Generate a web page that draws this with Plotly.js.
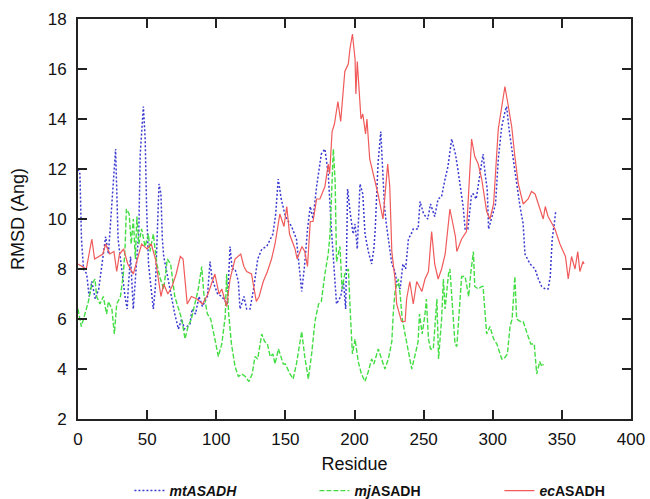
<!DOCTYPE html>
<html>
<head>
<meta charset="utf-8">
<script src="https://cdn.plot.ly/plotly-3.0.1.min.js"></script>
<style>html,body{margin:0;padding:0;background:#fff;}#chart{width:650px;height:499px;}</style>
</head>
<body>
<div id="chart"></div>
<script>
// mtASADH (blue, dotted)
var mtRes = [0,1.4,2.5,4,6.3,8,10,12.5,15,18,20,22,25,27.2,29,31,34,35.6,36.4,38,40,42,44,45,47.3,48.6,49.6,51,53.3,54.5,56,57.5,58.6,60,61,62,65,67.7,70,72.6,75,77,81,82.5,85,87.5,90,93.6,95.5,97,99,101,104,108,110,111.5,113.6,116,117.2,120,122,124.4,127,130,133,136.5,141,143,144.8,147,150,154.5,158,160,161.8,164,166,168,170,172.6,176,178.6,181,183.4,185,187,190,192,193.6,195,197,199,200.4,202,204,206,207.6,210,212.4,214,215,217,219,220.5,221.7,223,225,227,229.3,230.5,233,235,237,239,241,242.5,246,247.4,250,253,255,258,260.5,263,265.5,267.6,270.3,273,275,277,278.6,280,282,284.7,286,288,290,293,294.5,296,297,300,302,304,306.5,308.9,310,312,313.7,316,317,319.7,322,323.3,327,330.6,333,335.4,338,340,341.6,343,344.5,345.5];
var mtRmsd = [12.0,11.8,9.2,8.0,7.8,6.9,7.5,6.8,7.2,8.5,9.3,8.6,11.0,12.8,9.2,8.2,6.9,6.4,7.3,8.5,6.4,8.0,9.5,12.6,14.5,13.2,10.5,8.2,6.8,6.4,7.3,9.5,11.4,11.0,9.2,8.5,7.6,6.8,6.2,5.6,6.0,5.6,5.8,6.4,6.2,6.9,6.5,6.9,8.3,7.6,7.3,7.0,6.9,6.6,8.9,8.0,8.0,7.5,6.4,6.9,6.4,6.4,7.2,8.4,8.8,8.9,9.4,10.2,11.6,10.8,10.1,9.7,9.2,8.0,7.1,8.2,9.6,10.5,10.0,11.3,12.6,12.8,11.8,9.5,8.0,6.6,6.9,7.5,6.4,11.2,10.2,9.4,9.8,8.8,11.4,11.0,9.4,8.7,8.2,8.8,9.6,12.2,13.5,12.0,10.5,9.8,9.0,8.2,7.9,7.5,7.2,8.2,8.0,9.2,9.4,9.6,9.6,10.7,10.2,10.0,10.6,10.1,10.8,10.9,11.6,12.1,13.2,12.6,11.9,11.2,10.5,9.6,9.6,11.0,11.0,10.8,11.5,12.6,11.8,11.2,9.6,10.2,10.6,12.4,13.7,14.3,14.5,13.5,12.8,11.8,11.6,10.5,9.8,8.6,8.2,8.0,7.6,7.3,7.2,7.2,7.7,9.2,9.8,10.3];

// mjASADH (green, dashed)
var mjRes = [0,2.4,5,7.5,10,12.3,13.5,15.9,18.3,20.7,22,24.5,26.3,28,30.7,32.8,34,35,37,38.5,40,41.5,42.6,44,46,48.5,51,52,54.5,57,59.6,62,64.6,67,70,72.6,75,77.4,79.6,82,84.6,87,89.5,91,93.6,96,99,101.5,104,106.5,107.5,109,111,113.6,116,118.6,121,123.6,126,128,130,132.9,135,137,139,141,142.5,145,148.5,150,153.3,155.6,158,160,161.8,164,166.6,169,171.4,174,176,178.6,181,182.3,183.5,184.7,186,187,189.5,191,193,195.6,197,198.5,200.4,202.7,205,207.6,210,212.4,214,217.2,219.6,222,224.5,227,228,229.3,231.7,233,234.5,236.5,239,241.4,244,246,247,249,251,252,253.5,255,257,259.6,260.8,263,264.3,265.5,268,269,270.5,272.7,274,276,277.5,280,281,282.6,284,286,287,289.5,292,293,294.5,295.6,298,300.6,303,305,306.5,308,310.6,312.5,314,316,317.3,320,322,325,327.5,330,331.8,334,335.5,336.6];
var mjRmsd = [6.4,5.7,6.2,6.7,7.4,7.6,6.9,6.6,6.9,6.2,6.7,6.4,5.4,6.6,6.9,7.8,8.8,10.4,10.2,9.0,10.0,8.4,10.1,9.0,9.6,8.9,9.4,8.7,9.4,8.2,7.6,7.2,8.4,8.2,6.9,6.4,6.0,5.2,5.7,6.0,6.6,7.2,8.1,7.0,6.2,6.0,5.2,4.5,5.0,6.1,7.8,6.2,5.0,4.1,3.7,3.8,3.7,3.5,3.8,4.5,4.4,5.4,5.1,5.0,4.5,4.6,4.2,4.8,4.2,4.2,3.8,3.6,4.2,4.8,5.5,4.5,3.6,4.6,5.9,6.6,6.7,7.8,8.6,9.4,11.0,12.8,11.5,8.3,8.9,7.2,7.8,8.0,6.2,4.6,5.2,4.3,3.8,3.5,3.9,4.4,4.2,4.8,4.4,4.0,4.4,5.1,6.2,7.1,7.6,7.0,6.0,5.4,4.6,4.0,4.6,5.1,6.2,5.4,6.2,6.8,5.2,4.8,4.8,6.8,4.4,6.0,7.6,6.4,7.8,8.0,6.8,5.0,4.9,6.4,7.7,7.7,7.4,6.9,7.8,8.7,7.3,7.2,7.3,7.3,6.2,5.4,5.7,5.2,5.0,4.7,4.4,4.4,4.6,5.7,6.0,7.7,6.0,5.9,5.9,5.4,5.0,5.0,3.8,4.3,4.1,4.2];

// ecASADH (red, solid)
var ecRes = [0,3,6,8,10,12,15,18,20,23,26,28,30,33,36,40,43,46,50,53,56,58,60,62,65,68,71,74,76,79,82,86,90,94,97,99,102,104,107.5,110,113.6,117.7,120,122,125.5,129,131,134,137,140,142.5,146,149,151,153,157,158.5,162,164,166,168,170,172.6,175,178.6,181,182,183.8,185.5,188,190,193,195.5,196.7,198.5,200.4,201,202,204.7,206,208,209,211,214.8,217,220.6,224,225.5,227,229.3,230.5,234,236.6,237.7,240,242.5,245,248.7,251,253.5,255.8,258,260.5,263,265.6,269,270.5,273,274,277.5,281,284.7,287,289.5,292,295.6,298,300.6,304,306,308.8,311,313.7,316,318.5,322,325.6,328,330.6,333,336.5,338,340,343,345,348.6,350,352.6,354.6,357,359.5,361.5,363,365.3,366];
var ecRmsd = [8.2,8.1,8.0,8.6,9.2,8.4,8.5,8.6,9.0,8.6,8.7,7.9,8.6,8.8,8.2,7.8,8.4,9.0,8.8,9.0,8.4,7.6,6.9,7.4,7.0,7.3,7.8,8.5,8.4,6.6,6.9,6.8,6.6,7.0,7.5,7.8,7.0,7.2,6.5,7.6,8.4,8.6,8.1,7.9,7.8,6.7,6.9,7.5,7.9,8.4,9.0,10.2,9.7,10.5,9.4,8.8,8.4,8.9,8.7,8.1,9.9,9.9,10.8,10.8,11.3,12.2,11.8,13.5,13.8,14.7,13.9,15.9,16.2,16.8,17.4,16.4,15.0,16.3,14.0,14.2,13.4,14.0,12.4,11.5,11.0,10.0,12.2,11.3,8.7,7.6,6.6,5.9,5.9,6.8,7.5,6.6,7.5,7.1,7.6,7.9,9.5,8.2,7.6,8.0,8.6,10.4,10.0,9.3,8.7,9.2,9.5,13.2,12.5,12.2,11.6,10.3,10.0,10.6,13.6,14.4,15.3,14.6,13.7,12.5,11.4,10.6,10.8,11.1,11.0,10.6,10.0,10.5,10.1,9.8,9.6,9.0,8.8,8.5,7.6,8.5,8.0,8.7,7.9,8.3,8.2];

var xTicks = [0,50,100,150,200,250,300,350,400];
var yTicks = [2,4,6,8,10,12,14,16,18];

var traces = [
  {x: mtRes, y: mtRmsd, type: 'scatter', mode: 'lines', name: '<i>mtASADH</i>',
   line: {color: '#3a3ad0', width: 1.5, dash: '2px,2px'}},
  {x: mjRes, y: mjRmsd, type: 'scatter', mode: 'lines', name: '<i>mj</i>ASADH',
   line: {color: '#44dd44', width: 1.4, dash: '5px,2px'}},
  {x: ecRes, y: ecRmsd, type: 'scatter', mode: 'lines', name: '<i>ec</i>ASADH',
   line: {color: '#f05a5a', width: 1.2}}
];

var FONT = 'Liberation Sans, Arial, sans-serif';
var axisCommon = {
  showgrid: false, zeroline: false, showline: true, linecolor: '#222', linewidth: 2,
  mirror: 'ticks', ticks: 'inside', ticklen: 9, tickwidth: 2, tickcolor: '#222',
  automargin: false,
  tickfont: {family: FONT, size: 17, color: '#111'}
};

var layout = {
  width: 650, height: 499,
  margin: {l: 78, r: 19, t: 19, b: 80, autoexpand: false},
  paper_bgcolor: '#fff', plot_bgcolor: '#fff',
  showlegend: true,
  xaxis: Object.assign({}, axisCommon, {
    range: [0, 400], tickmode: 'array', tickvals: xTicks, ticktext: xTicks.map(String),
    ticklabelstandoff: 4,
    title: {text: 'Residue', font: {family: FONT, size: 18, color: '#111'}, standoff: 9}
  }),
  yaxis: Object.assign({}, axisCommon, {
    range: [2, 18], tickmode: 'array', tickvals: yTicks, ticktext: yTicks.map(String),
    ticklabelstandoff: 6,
    title: {text: 'RMSD (Ang)', font: {family: FONT, size: 18, color: '#111'}, standoff: 18}
  }),
  legend: {
    orientation: 'h', x: 0.093, y: -0.18, xanchor: 'left', yanchor: 'middle',
    entrywidth: 140, entrywidthmode: 'pixels',
    font: {family: FONT, size: 14, color: '#111', weight: 'bold'},
    bgcolor: 'rgba(0,0,0,0)'
  }
};

Plotly.newPlot('chart', traces, layout, {displayModeBar: false, staticPlot: true});
</script>
</body>
</html>
